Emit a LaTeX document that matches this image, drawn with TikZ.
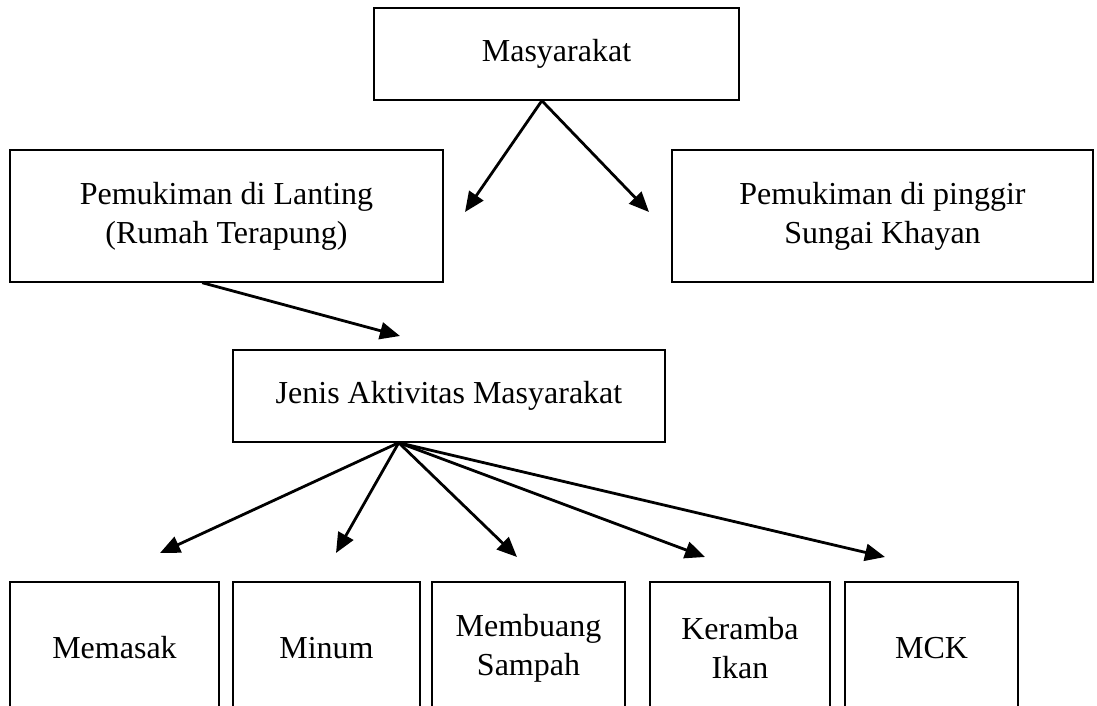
\documentclass[tikz,border=0pt]{standalone}
\usepackage{fontspec}
\setmainfont{Liberation Serif}
\usetikzlibrary{arrows.meta,calc}
\begin{document}
\begin{tikzpicture}[x=0.5pt,y=-0.5pt,
  box/.style={draw,line width=0.7pt,inner sep=0pt,align=center,font=\fontsize{16}{19.5}\selectfont},
  arr/.style={line width=1.4pt,-{Triangle[length=10pt,width=8.5pt]}}]
\useasboundingbox (0,0) rectangle (1097,706);
\clip (0,0) rectangle (1097,706);
\fill[white] (0,0) rectangle (1097,706);
% upper boxes
\node[box,minimum width=182.5pt,minimum height=46pt] (top) at (556.5,54) {Masyarakat};
\node[box,minimum width=216.5pt,minimum height=66pt] (left) at (226.5,216) {Pemukiman di Lanting\\(Rumah Terapung)};
\node[box,minimum width=210.5pt,minimum height=66pt] (right) at (882.5,216) {Pemukiman di pinggir\\Sungai Khayan};
\node[box,minimum width=216pt,minimum height=46pt] (jenis) at (449,396) {Jenis Aktivitas Masyarakat};
% bottom boxes (cut off by the page)
\node[box,minimum width=104.5pt,minimum height=66pt] (b1) at (114.5,648) {Memasak};
\node[box,minimum width=93.5pt,minimum height=66pt] (b2) at (326.5,648) {Minum};
\node[box,minimum width=96.5pt,minimum height=66pt] (b3) at (528.5,648) {Membuang\\Sampah};
\node[box,minimum width=90pt,minimum height=66pt] (b4) at (740,648) {Keramba\\Ikan};
\node[box,minimum width=86.5pt,minimum height=66pt] (b5) at (931.5,648) {MCK};
% connector points
\coordinate (tA) at ($(top.south west)!0.46!(top.south east)$);
\coordinate (e1) at (465,212);
\coordinate (e2) at (649,212);
\coordinate (lA) at ($(left.south west)!0.444!(left.south east)$);
\coordinate (e3) at (400,336);
\coordinate (jA) at ($(jenis.south west)!0.384!(jenis.south east)$);
\coordinate (f1) at (160,553);
\coordinate (f2) at (336,553);
\coordinate (f3) at (517,557);
\coordinate (f4) at (705,557);
\coordinate (f5) at (885,557);
\draw[arr] (tA) -- (e1);
\draw[arr] (tA) -- (e2);
\draw[arr] (lA) -- (e3);
\foreach \t in {f1,f2,f3,f4,f5} \draw[arr] (jA) -- (\t);
\end{tikzpicture}
\end{document}
